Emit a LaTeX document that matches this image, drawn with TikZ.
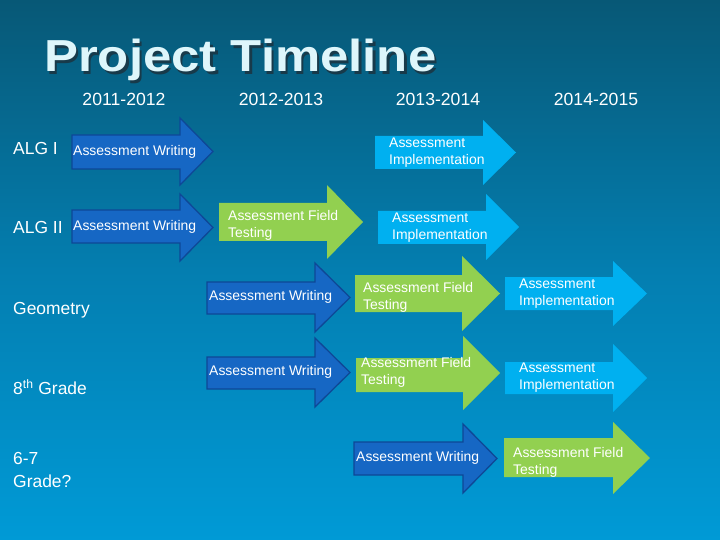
\documentclass[tikz,border=0pt]{standalone}
\usepackage{fontspec}
\setmainfont{Liberation Sans}
\usetikzlibrary{calc}
\definecolor{bgtop}{RGB}{7,88,118}
\definecolor{bgmid}{RGB}{4,126,176}
\definecolor{bgbot}{RGB}{0,154,214}
\definecolor{wrfill}{RGB}{22,103,196}
\definecolor{wrline}{RGB}{14,72,150}
\definecolor{imfill}{RGB}{0,176,240}
\definecolor{ftfill}{RGB}{146,208,80}
\definecolor{titlec}{RGB}{222,246,251}
\definecolor{shadowc}{RGB}{24,58,74}
\newcommand{\tlarrow}[8]{%
  \path[#1] (#2,#5) -- (#3,#5) -- (#3,#7) -- (#4,{(#7+#8)/2}) -- (#3,#8) -- (#3,#6) -- (#2,#6) -- cycle;}
\newcommand{\titletext}{\scalebox{1.135}[1]{Project Timeline}}
\tikzset{
  writearrow/.style={fill=wrfill,draw=wrline,line width=1.3pt,line join=miter},
  implarrow/.style={fill=imfill},
  fieldarrow/.style={fill=ftfill},
  arrtext/.style={anchor=west,inner sep=0pt,align=left,text=white,
    font=\fontsize{14}{17}\selectfont},
  rowlab/.style={anchor=west,inner sep=0pt,align=left,text=white,
    font=\fontsize{17.5}{22}\selectfont},
  yearlab/.style={inner sep=0pt,text=white,font=\fontsize{17.7}{20}\selectfont},
}
\begin{document}
\begin{tikzpicture}[x=1bp,y=-1bp]
\useasboundingbox (0,0) rectangle (720,540);
\shade[top color=bgtop,bottom color=bgbot,middle color=bgmid] (0,0) rectangle (720,540);
% title with shadow in one node
\node[anchor=base west,inner sep=0pt,text=titlec,font=\fontsize{45}{50}\bfseries\selectfont] (title) at (44,72)
  {\makebox[0pt][l]{\hspace{2.5bp}\raisebox{-2.5bp}{\color{shadowc}\titletext}}\titletext};
% years
\node[yearlab] (y1) at (124,99) {2011-2012};
\node[yearlab] (y2) at (281,99) {2012-2013};
\node[yearlab] (y3) at (438,99) {2013-2014};
\node[yearlab] (y4) at (596,99) {2014-2015};
% row labels
\node[rowlab] (r1) at (13,148) {ALG I};
\node[rowlab] (r2) at (13,227) {ALG II};
\node[rowlab] (r3) at (13,310) {Geometry};
\node[rowlab] (r4) at (13,387) {8\textsuperscript{th} Grade};
\node[rowlab,font=\fontsize{17.5}{22.5}\selectfont] (r5) at (13,470) {6-7\\Grade?};
% arrows
\tlarrow{writearrow}{72}{180}{213}{135}{169}{118}{185}
\tlarrow{writearrow}{72}{180}{213}{210}{243}{194}{261}
\tlarrow{fieldarrow}{219}{327}{363}{203}{241}{185}{259}
\tlarrow{implarrow}{375}{483}{516}{136}{169}{120}{185}
\tlarrow{implarrow}{378}{486}{519}{211}{244}{194}{260}
\tlarrow{writearrow}{207}{315}{350}{282}{314}{263}{332}
\tlarrow{writearrow}{207}{315}{350}{357}{389}{338}{407}
\tlarrow{fieldarrow}{355}{462}{500}{275}{312}{256}{331}
\tlarrow{implarrow}{505}{613}{647}{277}{310}{261}{326}
\tlarrow{fieldarrow}{356}{463}{500}{358}{392}{336}{410}
\tlarrow{implarrow}{505}{613}{647}{362}{394}{344}{412}
\tlarrow{writearrow}{354}{463}{497}{442}{475}{424}{493}
\tlarrow{fieldarrow}{504}{613}{650}{438}{477}{422}{494}
% arrow texts
\node[arrtext] (t1) at (73,152) {Assessment Writing};
\node[arrtext] (t2) at (73,227) {Assessment Writing};
\node[arrtext] (t3) at (228,225.5) {Assessment Field\\Testing};
\node[arrtext] (t4) at (389,153) {Assessment\\Implementation};
\node[arrtext] (t5) at (392,228) {Assessment\\Implementation};
\node[arrtext] (t6) at (209,297) {Assessment Writing};
\node[arrtext] (t7) at (209,372) {Assessment Writing};
\node[arrtext] (t8) at (363,297) {Assessment Field\\Testing};
\node[arrtext] (t9) at (519,293.5) {Assessment\\Implementation};
\node[arrtext] (t10) at (361,372.5) {Assessment Field\\Testing};
\node[arrtext] (t11) at (519,378) {Assessment\\Implementation};
\node[arrtext] (t12) at (356,458) {Assessment Writing};
\node[arrtext] (t13) at (513,462) {Assessment Field\\Testing};
\end{tikzpicture}
\end{document}
